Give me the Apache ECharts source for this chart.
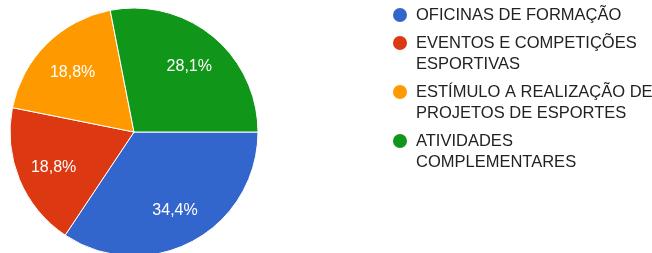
<!DOCTYPE html>
<html>
<head>
<meta charset="utf-8">
<script src="https://cdn.jsdelivr.net/npm/echarts@6/dist/echarts.min.js"></script>
<style>
  html, body { margin: 0; padding: 0; background: #fff; }
  #pie { width: 652px; height: 253px; }
</style>
</head>
<body>
<div id="pie"></div>
<script>
var categorias = [
    'OFICINAS DE FORMAÇÃO',
    'EVENTOS E COMPETIÇÕES\nESPORTIVAS',
    'ESTÍMULO A REALIZAÇÃO DE\nPROJETOS DE ESPORTES',
    'ATIVIDADES\nCOMPLEMENTARES'
];
var percentuais = [34.4, 18.8, 18.8, 28.1];
var cores = ['#3366cc', '#dc3912', '#ff9900', '#109618'];

var pieChart = echarts.init(document.getElementById('pie'));

var dados = categorias.map(function (nome, i) {
    return { name: nome, value: percentuais[i] };
});

option_pie = {
    color: cores,
    animation: false,
    legend: {
        orient: 'vertical',
        left: 391,
        top: 4.5,
        padding: 0,
        itemGap: -14,
        itemWidth: 16,
        itemHeight: 16,
        icon: 'circle',
        selectedMode: false,
        data: categorias,
        // linha vazia no topo: o icone fica alinhado com a primeira linha
        formatter: function (nome) {
            return nome.indexOf('\n') >= 0 ? '\n' + nome : nome;
        },
        textStyle: {
            fontFamily: 'Arial, "Liberation Sans", sans-serif',
            fontSize: 16.5,
            lineHeight: 21,
            padding: [0, 0, 0, 3],
            color: '#222222'
        }
    },
    series: [{
        type: 'pie',
        center: [134, 132],
        radius: [0, 124],
        startAngle: 0,
        clockwise: true,
        data: dados,
        label: { show: false },
        labelLine: { show: false },
        itemStyle: { borderColor: '#ffffff', borderWidth: 1 }
    }, {
        // so os rotulos, um pouco mais para fora que o meio do raio
        type: 'pie',
        center: [134, 134],
        radius: [44, 124],
        startAngle: 0,
        clockwise: true,
        silent: true,
        legendHoverLink: false,
        data: dados,
        itemStyle: { color: 'rgba(0,0,0,0)', borderWidth: 0 },
        labelLine: { show: false },
        label: {
            show: true,
            position: 'inside',
            color: '#ffffff',
            opacity: 1,
            fontFamily: 'Arial, "Liberation Sans", sans-serif',
            fontSize: 16,
            formatter: function (p) {
                return p.value.toFixed(1).replace('.', ',') + '%';
            }
        }
    }]
};
pieChart.setOption(option_pie);

window.addEventListener('resize', pieChart.resize);
</script>
</body>
</html>
